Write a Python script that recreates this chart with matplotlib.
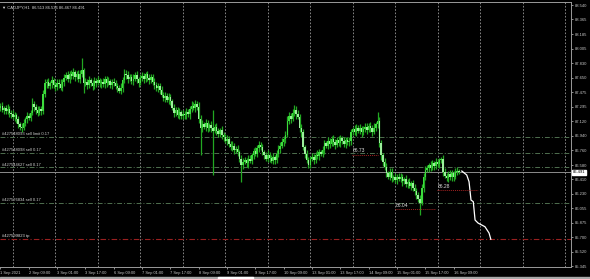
import matplotlib
matplotlib.use('Agg')
import matplotlib.pyplot as plt
from matplotlib.patches import Rectangle

plt.rcParams['font.family'] = ['Liberation Sans', 'DejaVu Sans']

# CADJPY H1 bars, 1 Sep 17:00 .. 16 Sep 12:00 (open of each bar = previous close)
first_open = 87.28

closes = [
    87.30, 87.26, 87.28, 87.24, 87.27, 87.22, 87.20, 87.17, 87.19, 87.14,
    87.08, 87.05, 87.04, 87.10, 87.14, 87.18, 87.16, 87.22, 87.33, 87.29,
    87.25, 87.22, 87.27, 87.24, 87.45, 87.58, 87.60, 87.55, 87.58, 87.62,
    87.56, 87.54, 87.59, 87.57, 87.53, 87.60, 87.65, 87.68, 87.64, 87.70,
    87.67, 87.72, 87.66, 87.69, 87.64, 87.70, 87.74, 87.58, 87.60, 87.56,
    87.62, 87.58, 87.55, 87.61, 87.59, 87.62, 87.58, 87.60, 87.57, 87.63,
    87.59, 87.61, 87.56, 87.60, 87.58, 87.55, 87.52, 87.49, 87.53, 87.62,
    87.70, 87.68, 87.64, 87.66, 87.61, 87.64, 87.68, 87.63, 87.59, 87.65,
    87.67, 87.63, 87.69, 87.65, 87.62, 87.66, 87.60, 87.56, 87.52, 87.55,
    87.50, 87.44, 87.40, 87.43, 87.38, 87.41, 87.36, 87.28, 87.22, 87.25,
    87.19, 87.23, 87.18, 87.21, 87.19, 87.23, 87.20, 87.27, 87.31, 87.28,
    87.33, 87.29, 87.15, 87.03, 87.08, 87.05, 87.09, 87.03, 87.07, 87.04,
    87.00, 87.05, 87.00, 86.96, 87.01, 86.95, 86.92, 86.88, 86.90, 86.84,
    86.80, 86.82, 86.76, 86.78, 86.74, 86.66, 86.58, 86.62, 86.64, 86.60,
    86.66, 86.63, 86.70, 86.75, 86.72, 86.79, 86.83, 86.80, 86.74, 86.70,
    86.66, 86.71, 86.67, 86.63, 86.68, 86.64, 86.72, 86.78, 86.82, 86.86,
    86.90, 86.95, 87.12, 87.18, 87.15, 87.22, 87.26, 87.20, 87.17, 87.03,
    86.98, 86.80, 86.72, 86.64, 86.58, 86.66, 86.68, 86.64, 86.71, 86.69,
    86.74, 86.72, 86.77, 86.85, 86.82, 86.88, 86.84, 86.90, 86.86, 86.83,
    86.89, 86.85, 86.91, 86.87, 86.84, 86.89, 86.86, 86.88, 86.98, 87.02,
    86.99, 87.04, 87.00, 87.03, 86.98, 87.02, 87.05, 87.01, 87.06, 87.03,
    86.99, 87.04, 87.08, 87.12, 86.85, 86.70, 86.62, 86.56, 86.48, 86.44,
    86.50, 86.42, 86.43, 86.40, 86.44, 86.41, 86.43, 86.38, 86.41, 86.35,
    86.37, 86.33, 86.36, 86.30, 86.26, 86.22, 86.17, 86.12, 86.30, 86.44,
    86.52, 86.54, 86.58, 86.55, 86.60, 86.57, 86.62, 86.59, 86.64, 86.66,
    86.50, 86.45, 86.42, 86.47, 86.43, 86.48, 86.44, 86.50, 86.513, 86.491,
]

# wick lengths above / below the body, in 0.01 yen
wick_up = [
    4, 5, 3, 4, 6, 4, 3, 5, 4, 3, 4, 3, 5, 4, 3, 5, 4, 4, 7, 3,
    4, 5, 3, 4, 5, 6, 4, 5, 3, 5, 3, 4, 5, 4, 6, 3, 5, 4, 5, 3,
    4, 5, 3, 4, 5, 4, 15, 3, 5, 4, 5, 3, 4, 5, 4, 5, 3, 4, 5, 4,
    4, 5, 3, 4, 5, 4, 3, 4, 5, 4, 6, 4, 5, 3, 4, 5, 4, 5, 3, 4,
    5, 4, 3, 4, 5, 4, 3, 5, 4, 3, 4, 5, 3, 4, 3, 5, 4, 3, 5, 4,
    4, 5, 3, 4, 3, 5, 4, 3, 5, 4, 5, 3, 6, 4, 5, 3, 5, 4, 3, 5,
    22, 3, 5, 4, 3, 5, 3, 4, 5, 4, 3, 5, 3, 4, 5, 3, 4, 5, 4, 3,
    4, 5, 3, 4, 5, 4, 5, 3, 4, 3, 4, 5, 3, 4, 5, 3, 4, 5, 4, 5,
    4, 5, 6, 5, 4, 5, 6, 4, 5, 3, 5, 4, 3, 5, 4, 3, 5, 4, 3, 5,
    4, 3, 5, 4, 3, 5, 3, 4, 5, 4, 3, 5, 4, 3, 5, 3, 4, 5, 4, 3,
    5, 4, 3, 5, 3, 4, 5, 4, 3, 5, 4, 5, 3, 11, 5, 4, 3, 5, 4, 3,
    5, 4, 3, 5, 3, 4, 5, 4, 3, 5, 4, 5, 3, 4, 5, 4, 3, 5, 5, 4,
    5, 4, 3, 5, 4, 3, 5, 4, 3, 2, 4, 5, 3, 4, 5, 4, 3, 5, 4, 2,
]
wick_dn = [
    4, 3, 5, 4, 3, 5, 4, 3, 5, 4, 4, 4, 5, 3, 4, 5, 3, 4, 3, 5,
    5, 4, 3, 5, 3, 4, 5, 3, 4, 5, 3, 5, 4, 5, 3, 4, 5, 3, 4, 5,
    3, 4, 5, 3, 4, 5, 4, 12, 3, 5, 4, 3, 5, 4, 5, 3, 4, 5, 3, 4,
    5, 3, 4, 5, 3, 4, 5, 3, 4, 5, 3, 4, 5, 3, 4, 5, 3, 4, 5, 3,
    4, 5, 3, 4, 5, 3, 4, 5, 3, 4, 5, 3, 4, 5, 3, 5, 4, 3, 5, 4,
    3, 5, 4, 3, 5, 4, 3, 5, 4, 3, 5, 4, 5, 33, 5, 3, 5, 4, 3, 5,
    54, 3, 5, 4, 3, 5, 4, 3, 5, 4, 3, 5, 4, 3, 5, 4, 21, 5, 3, 4,
    5, 3, 4, 5, 3, 4, 5, 3, 4, 5, 3, 4, 5, 3, 4, 5, 3, 4, 5, 3,
    4, 5, 3, 4, 5, 3, 4, 5, 3, 5, 5, 4, 5, 3, 3, 4, 3, 5, 4, 3,
    5, 3, 4, 5, 3, 4, 5, 3, 4, 5, 3, 4, 5, 3, 4, 5, 3, 4, 5, 3,
    4, 5, 3, 4, 5, 3, 4, 5, 3, 4, 5, 3, 4, 5, 5, 6, 5, 4, 5, 3,
    4, 5, 3, 4, 5, 3, 4, 5, 3, 4, 5, 3, 5, 4, 5, 5, 4, 15, 3, 5,
    4, 3, 5, 4, 3, 5, 4, 3, 5, 4, 5, 3, 4, 5, 3, 4, 5, 3, 4, 2,
]

price_ticks = [88.540, 88.365, 88.185, 88.005, 87.830, 87.650, 87.475, 87.295, 87.120, 86.940,
               86.760, 86.580, 86.410, 86.230, 86.055, 85.875, 85.700, 85.520, 85.345]
time_labels = ['1 Sep 2021', '2 Sep 09:00', '3 Sep 01:00', '3 Sep 17:00', '6 Sep 09:00',
               '7 Sep 01:00', '7 Sep 17:00', '8 Sep 09:00', '9 Sep 01:00', '9 Sep 17:00',
               '10 Sep 09:00', '13 Sep 01:00', '13 Sep 17:00', '14 Sep 09:00', '15 Sep 01:00',
               '15 Sep 17:00', '16 Sep 09:00']

order_prices = [86.928, 86.725, 86.553, 86.113]
order_names = ['#427548093 sell limit 0.17', '#427548098 sell 0.17',
               '#427544627 sell 0.17', '#427576834 sell 0.17']
tp_price = 85.675
tp_name = '#427599823 tp'
bid = 86.491
header = '\u25bc CADJPY,H1  86.513 86.536 86.467 86.491'

# forecast path drawn after the last bar (bar index, price)
proj_bar = [260.6, 263.4, 264.7, 265.8, 267.1, 268.1, 269.8, 273.7, 276.0, 277.0]
proj_price = [86.508, 86.459, 86.377, 86.153, 86.132, 85.908, 85.871, 85.826, 85.749, 85.672]

# level markers (text, bar where text starts, bar where line ends, price)
marks = [('86.73', 198.6, 213.3, 86.71), ('86.04', 222.9, 245.5, 86.04), ('86.28', 246.6, 269.8, 86.275)]

W, H = 590, 279
fig = plt.figure(figsize=(W / 100, H / 100), dpi=100, facecolor='black')
ax = fig.add_axes([0, 12 / H, 571 / W, 265 / H], facecolor='black')

opens = [first_open] + closes[:-1]
for i in range(len(closes)):
    o, c = opens[i], closes[i]
    hi = max(o, c) + wick_up[i] / 100
    lo = min(o, c) - wick_dn[i] / 100
    ax.vlines(i, lo, hi, color='#22a822', lw=0.9, zorder=3)
    body = c - o
    if abs(body) < 0.008:
        body = 0.008
    col = '#3ddc3d' if c >= o else '#9cee9c'
    ax.bar(i, body, bottom=o, width=0.85, color=col, lw=0, zorder=4)

# vertical grid at each day start
for gx in range(7, 323, 24):
    ax.axvline(gx, color='#9a9a9a', lw=0.6, ls=(0, (2, 2)), zorder=1)

# order lines
for p, name in zip(order_prices, order_names):
    ax.axhline(p, color='#4f6f4f', lw=0.7, ls=(0, (5, 2, 1, 2)), zorder=2)
    ax.text(1, p + 0.01, name, color='#d0d0d0', fontsize=3.0, va='bottom', ha='left', zorder=5)
ax.axhline(tp_price, color='#9a2020', lw=0.8, ls=(0, (5, 2, 1, 2)), zorder=2)
ax.text(1, tp_price + 0.01, tp_name, color='#e0e0e0', fontsize=3.0, va='bottom', ha='left', zorder=5)

# bid line
ax.axhline(bid, color='#8c8c8c', lw=0.7, zorder=2)

# forecast path
ax.plot(proj_bar, proj_price, color='white', lw=0.9, zorder=5)

for txt, x0, x1, p in marks:
    ax.plot([x0, x1], [p, p], color='#a02020', lw=0.7, ls=(0, (1, 1)), zorder=5)
    ax.text(x0 + 0.5, p + 0.015, txt, color='#dcdcdc', fontsize=3.6, va='bottom', ha='left', zorder=6)

ax.set_xlim(-0.28, 322.3)
ax.set_ylim(85.333, 88.577)

ax.yaxis.tick_right()
ax.set_yticks(price_ticks)
ax.set_yticklabels(['%.3f' % v for v in price_ticks])
ax.set_xticks(range(0, 16 * len(time_labels), 16))
ax.set_xticklabels(time_labels)
for lab in ax.get_xticklabels():
    lab.set_horizontalalignment('left')
ax.tick_params(axis='y', colors='#c8c8c8', labelsize=3.0, length=1.5, width=0.5, pad=1)
ax.tick_params(axis='x', colors='#c8c8c8', labelsize=2.9, length=1.5, width=0.5, pad=1.2)

ax.spines['left'].set_visible(False)
for side in ['right', 'bottom', 'top']:
    ax.spines[side].set_color('#9a9a9a')
    ax.spines[side].set_linewidth(0.7)

# price box on the axis
ax.text(1.003, bid, '%.3f' % bid, transform=ax.get_yaxis_transform(), fontsize=3.0,
        color='black', va='center', ha='left',
        bbox=dict(boxstyle='square,pad=0.2', fc='white', ec='white'))

ax.text(0.004, 0.985, header, transform=ax.transAxes, fontsize=3.0, color='#d8d8d8',
        va='top', ha='left')

# bottom tab bar
fig.patches.append(Rectangle((0, 0), 1, 2.5 / H, transform=fig.transFigure, color='#a8a8a8'))
fig.patches.append(Rectangle((218 / W, 0), 35 / W, 2.5 / H, transform=fig.transFigure, color='white'))

fig.savefig('out.png', dpi=100, facecolor='black')
